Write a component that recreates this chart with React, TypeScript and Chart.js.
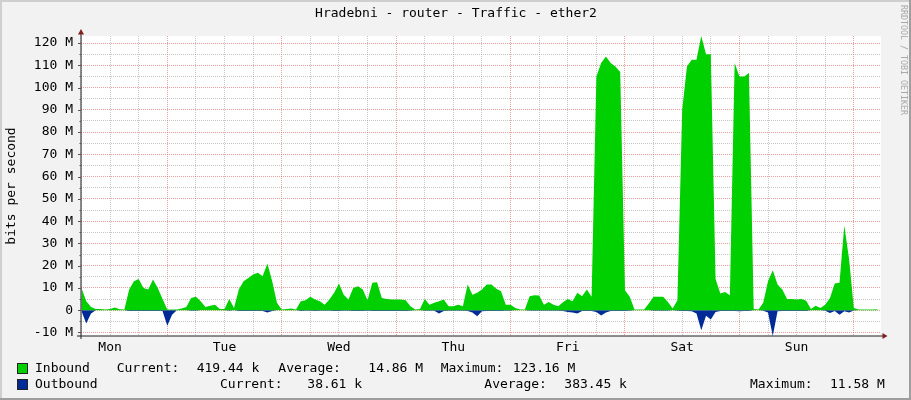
import React, { useEffect, useRef } from 'react';
import { Chart, registerables } from 'chart.js';

Chart.register(...registerables);

// ---------- text ----------
const chartTitle = 'Hradebni - router - Traffic - ether2';
const yAxisTitle = 'bits per second';
const watermark = 'RRDTOOL / TOBI OETIKER';
const dayNames = ['Mon', 'Tue', 'Wed', 'Thu', 'Fri', 'Sat', 'Sun'];
const legendInbound = ['Inbound', 'Current:', '419.44 k', 'Average:', '14.86 M', 'Maximum:', '123.16 M'];
const legendOutbound = ['Outbound', 'Current:', '38.61 k', 'Average:', '383.45 k', 'Maximum:', '11.58 M'];

// ---------- axes ----------
const firstSampleHour = 6; // hours since Monday 00:00
const xMinHour = 5.9;
const xMaxHour = 173.7;
const gridHours = [6, 12, 18, 24, 30, 36, 42, 48, 54, 60, 66, 72, 78, 84, 90, 96, 102, 108, 114, 120, 126, 132, 138, 144, 150, 156, 162, 168];
const yMinM = -11.58;
const yMaxM = 123.16;
const yTicksM = [-10, -5, 0, 5, 10, 15, 20, 25, 30, 35, 40, 45, 50, 55, 60, 65, 70, 75, 80, 85, 90, 95, 100, 105, 110, 115, 120];

// ---------- data (Mbit/s, hourly from Mon 06:00) ----------
const inbound = [
  10, 4, 1.5, 0.5, 0.5, 0.3, 0.5, 1.2, 0.4, 0.3,
  9.3, 13, 14, 10, 9.3, 13.8, 10, 5, 0.3, 0.3,
  0.3, 0.8, 1.5, 5.5, 6, 4, 1.5, 2, 2.5, 0.5,
  0.5, 5, 1, 9.3, 13, 14.5, 16, 16.8, 15.3, 21,
  13, 3.3, 0.3, 0.5, 0.8, 0.3, 4, 4.5, 6, 4.8,
  4, 2.5, 4.8, 7.8, 12, 7, 4.8, 10, 10.8, 9.3,
  4.5, 12.3, 12.6, 5.5, 5, 4.8, 4.8, 4.8, 4.5, 1.8,
  0.3, 0.5, 5, 2.5, 3.3, 4, 4.8, 1.8, 1.8, 2.5,
  1.8, 11.5, 7, 7.8, 9.3, 11.5, 11.5, 9.6, 8.5, 2.5,
  2.5, 1, 0.3, 0.3, 6.3, 6.7, 6.6, 2.5, 3.7, 2.5,
  1.8, 3.6, 5, 4, 7.8, 6.3, 9.3, 6, 105, 111,
  114, 111, 109.5, 107, 9, 6, 0.3, 0.3, 0.3, 3,
  6, 6, 6, 3.7, 0.8, 4.5, 90, 109.5, 112.5, 112.5,
  123.16, 115, 115, 14, 7.5, 8.2, 6.7, 111, 105, 105,
  106.5, 0.5, 0.3, 3.3, 13, 18, 11.5, 9.3, 5, 5,
  4.8, 5, 4.3, 0.5, 2, 1, 2.5, 5.5, 12, 12.3,
  38, 23, 1, 0.3, 0.3, 0.3, 0.3, 0.42,
];

const outbound = [
  -0.3, -6, -1.5, 0, 0, 0, 0, 0, 0, 0,
  -0.4, -0.4, -0.4, -0.4, -0.4, -0.4, -0.4, -0.3, -7, -2,
  0, 0, 0, -0.2, -0.2, 0, 0, 0, 0, 0,
  0, -0.2, 0, -0.4, -0.4, -0.4, -0.4, -0.4, -0.4, -1,
  -0.4, 0, 0, 0, 0, 0, -0.3, -0.2, -0.2, -0.3,
  -0.2, -0.2, -0.2, -0.3, -0.3, -0.2, -0.2, -0.4, -0.4, -0.4,
  -0.2, -0.4, -0.4, -0.3, -0.3, -0.3, -0.3, -0.3, -0.3, -0.2,
  0, 0, -0.2, -0.2, -0.2, -1.5, -0.4, -0.2, -0.2, -0.2,
  -0.2, -0.3, -1, -2.7, -0.5, -0.4, -0.4, -0.4, -0.4, -0.2,
  -0.2, 0, 0, 0, -0.2, -0.2, -0.2, -0.2, -0.2, -0.2,
  -0.2, -0.4, -0.8, -1, -1.5, -0.4, -0.4, -0.3, -0.8, -2.4,
  -1, -0.4, -0.3, -0.3, -0.4, -0.2, 0, 0, 0, 0,
  -0.2, -0.2, -0.2, -0.2, 0, -0.2, -0.4, -0.4, -0.5, -1.5,
  -9, -2.5, -4.2, -0.8, -0.4, -0.4, -0.3, -0.4, -0.5, -0.4,
  -0.4, 0, 0, -0.2, -1, -11.58, -0.5, -0.4, -0.3, -0.3,
  -0.3, -0.3, -0.3, 0, 0, 0, -0.2, -1.2, -0.4, -2,
  -0.5, -1, -0.1, 0, 0, 0, 0, -0.04,
];

// ---------- styles ----------
const FONT = 'DejaVu Sans Mono';
const inboundColor = '#00cf00';
const outboundColor = '#002a97';
const majorGrid = 'rgba(222,79,79,0.55)';
const minorGrid = 'rgba(143,143,143,0.5)';
const legendRow1X = [35, 116.7, 196.7, 278.3, 368.3, 440.7, 512.7];
const legendRow2X = [35, 220, 307.3, 484.3, 564.3, 750, 830];

const rrdPlugin = {
  id: 'rrdDecor',
  beforeDraw(chart: any) {
    const { ctx, chartArea: a, width, height } = chart;
    ctx.save();
    ctx.fillStyle = '#f2f2f2';
    ctx.fillRect(0, 0, width, height);
    ctx.fillStyle = '#cfcfcf';
    ctx.fillRect(0, 0, width, 2);
    ctx.fillRect(0, 0, 2, height);
    ctx.fillStyle = '#9e9e9e';
    ctx.fillRect(0, height - 2, width, 2);
    ctx.fillRect(width - 2, 0, 2, height);
    ctx.fillStyle = '#ffffff';
    ctx.fillRect(a.left, a.top, a.right - a.left, a.bottom - a.top);
    ctx.restore();
  },
  afterDraw(chart: any) {
    const { ctx, chartArea: a } = chart;
    const yScale = chart.scales.y;
    ctx.save();
    // axes
    ctx.strokeStyle = '#1f1f1f';
    ctx.lineWidth = 1;
    ctx.beginPath();
    ctx.moveTo(a.left - 4, a.bottom);
    ctx.lineTo(a.right + 2, a.bottom);
    ctx.moveTo(a.left, a.bottom + 3);
    ctx.lineTo(a.left, a.top - 2);
    ctx.stroke();
    // y ticks
    ctx.beginPath();
    yTicksM.forEach((v) => {
      const py = Math.round(yScale.getPixelForValue(v)) + 0.5;
      const len = v % 10 === 0 ? 3 : 1.5;
      ctx.moveTo(a.left - len, py);
      ctx.lineTo(a.left, py);
    });
    ctx.strokeStyle = '#555';
    ctx.stroke();
    // arrows
    ctx.fillStyle = '#801f1f';
    ctx.beginPath();
    ctx.moveTo(a.left - 3, a.top - 1.5);
    ctx.lineTo(a.left + 3, a.top - 1.5);
    ctx.lineTo(a.left, a.top - 7);
    ctx.closePath();
    ctx.fill();
    ctx.beginPath();
    ctx.moveTo(a.right + 1.5, a.bottom - 3);
    ctx.lineTo(a.right + 1.5, a.bottom + 3);
    ctx.lineTo(a.right + 6.5, a.bottom);
    ctx.closePath();
    ctx.fill();

    // title
    ctx.fillStyle = '#000';
    ctx.font = `13px "${FONT}"`;
    ctx.textAlign = 'center';
    ctx.textBaseline = 'middle';
    ctx.fillText(chartTitle, 456, 14);

    // y axis title
    ctx.save();
    ctx.translate(12, 186);
    ctx.rotate(-Math.PI / 2);
    ctx.fillText(yAxisTitle, 0, 0);
    ctx.restore();

    // watermark
    ctx.save();
    ctx.translate(903, 5);
    ctx.rotate(Math.PI / 2);
    ctx.font = `8.3px "${FONT}"`;
    ctx.fillStyle = '#a8a8a8';
    ctx.textAlign = 'left';
    ctx.fillText(watermark, 0, 0);
    ctx.restore();

    // legend
    ctx.textAlign = 'left';
    ctx.font = `13px "${FONT}"`;
    const rows = [
      { texts: legendInbound, xs: legendRow1X, y: 368.5, color: inboundColor },
      { texts: legendOutbound, xs: legendRow2X, y: 384.5, color: outboundColor },
    ];
    rows.forEach((r) => {
      ctx.fillStyle = r.color;
      ctx.fillRect(18, r.y - 4.5, 9, 9);
      ctx.strokeStyle = '#222';
      ctx.lineWidth = 1;
      ctx.strokeRect(17.5, r.y - 5, 10, 10);
      ctx.fillStyle = '#000';
      r.texts.forEach((t, i) => ctx.fillText(t, r.xs[i], r.y));
    });
    ctx.restore();
  },
};

export default function App() {
  const ref = useRef<HTMLCanvasElement>(null);
  useEffect(() => {
    document.body.style.margin = '0';
    const font = { family: FONT, size: 13 };
    const toPoints = (vals: number[]) => vals.map((v, i) => ({ x: firstSampleHour + i, y: v }));
    const chart = new Chart(ref.current as HTMLCanvasElement, {
      type: 'line',
      data: {
        datasets: [
          {
            label: 'Inbound',
            data: toPoints(inbound),
            backgroundColor: inboundColor,
            borderWidth: 0,
            pointRadius: 0,
            fill: 'origin',
            tension: 0,
          },
          {
            label: 'Outbound',
            data: toPoints(outbound),
            backgroundColor: outboundColor,
            borderWidth: 0,
            pointRadius: 0,
            fill: 'origin',
            tension: 0,
          },
        ],
      },
      options: {
        animation: false,
        responsive: false,
        devicePixelRatio: 1,
        layout: { padding: { top: 36, right: 30, left: 0, bottom: 0 } },
        plugins: { legend: { display: false }, tooltip: { enabled: false }, title: { display: false } },
        scales: {
          x: {
            type: 'linear',
            min: xMinHour,
            max: xMaxHour,
            afterBuildTicks: (s: any) => {
              s.ticks = gridHours.map((v) => ({ value: v }));
            },
            afterFit: (s: any) => {
              s.height = 64;
            },
            ticks: {
              autoSkip: false,
              maxRotation: 0,
              padding: 4,
              font,
              color: '#000',
              callback: (v: any) => (v % 24 === 12 ? dayNames[Math.floor(v / 24)] : ''),
            },
            grid: {
              drawTicks: false,
              lineWidth: 1,
              color: (c: any) => (c.tick && c.tick.value % 24 === 0 ? majorGrid : minorGrid),
            },
            border: { display: false, dash: [1, 1] },
          },
          y: {
            type: 'linear',
            min: yMinM,
            max: yMaxM,
            afterBuildTicks: (s: any) => {
              s.ticks = yTicksM.map((v) => ({ value: v }));
            },
            afterFit: (s: any) => {
              s.width = 81;
            },
            ticks: {
              autoSkip: false,
              padding: 8,
              font,
              color: '#000',
              callback: (v: any) => (v % 10 === 0 ? (v === 0 ? '0' : `${v} M`) : ''),
            },
            grid: {
              drawTicks: false,
              lineWidth: 1,
              color: (c: any) => (c.tick && c.tick.value % 10 === 0 ? majorGrid : minorGrid),
            },
            border: { display: false, dash: [1, 1] },
          },
        },
      },
      plugins: [rrdPlugin],
    } as any);
    return () => chart.destroy();
  }, []);
  return (
    <div style={{ position: 'absolute', left: 0, top: 0, width: 911, height: 400 }}>
      <canvas ref={ref} width={911} height={400} style={{ width: 911, height: 400, display: 'block' }} />
    </div>
  );
}
